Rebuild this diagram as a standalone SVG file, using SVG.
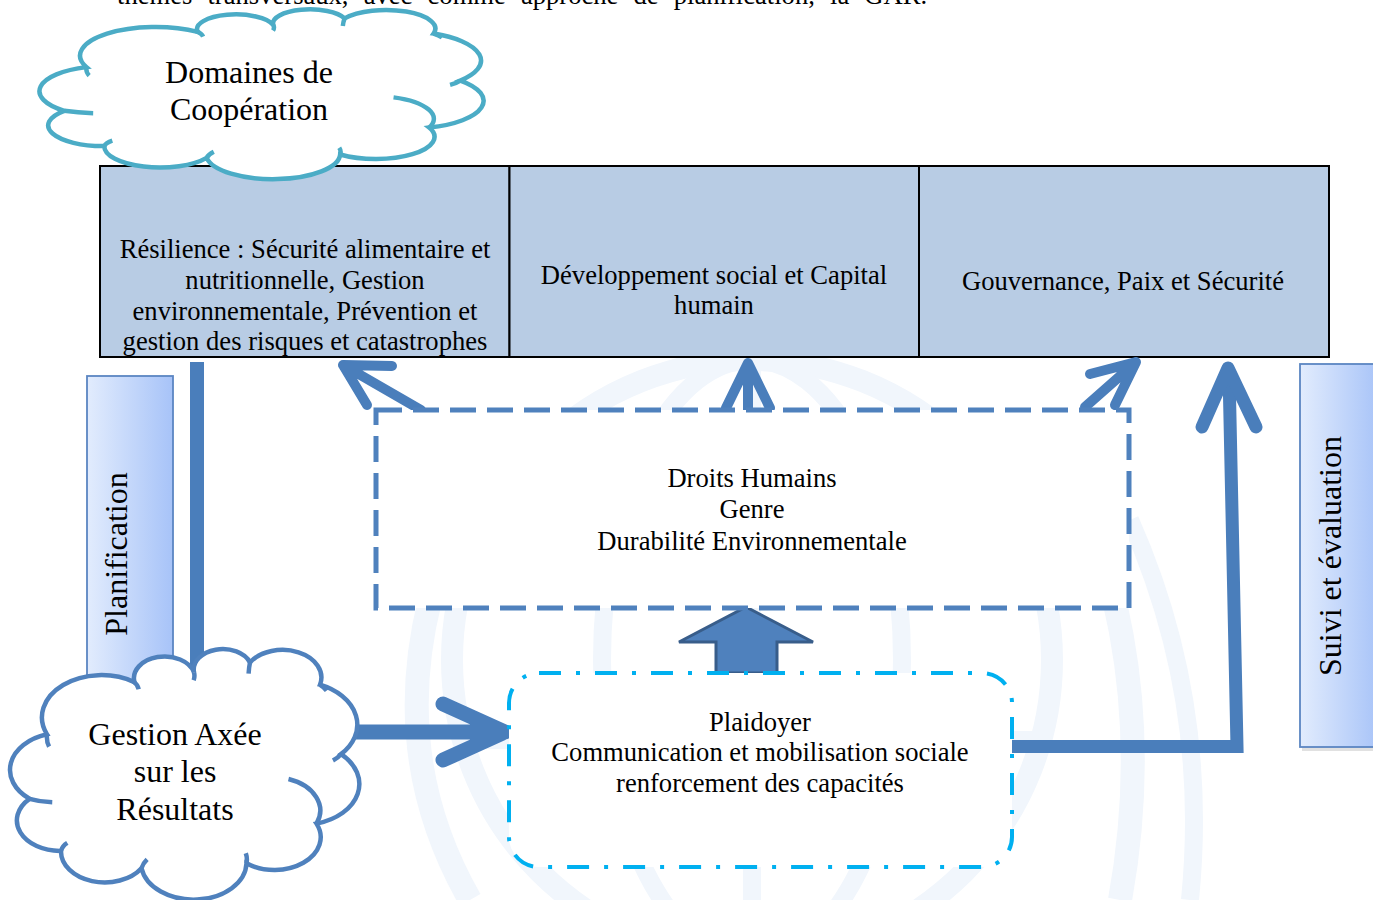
<svg xmlns="http://www.w3.org/2000/svg" width="1373" height="900" viewBox="0 0 1373 900">
<defs>
<linearGradient id="barGrad" x1="0" y1="0" x2="1" y2="0">
<stop offset="0" stop-color="#e2ecfd"/>
<stop offset="1" stop-color="#a7c3f8"/>
</linearGradient>
<style>
.t{font-family:"Liberation Serif","Times New Roman",serif;fill:#000;text-anchor:middle}
.s26{font-size:26.6px}
.s32{font-size:32px}
.arr{stroke:#4a7ebb;fill:none;stroke-linecap:round;stroke-linejoin:round}
.wm{stroke:#f1f6fc;fill:none}
.cell{fill:#b8cce4;stroke:#000;stroke-width:2}
.bar{fill:url(#barGrad);stroke:#5b86c2;stroke-width:1.8}
</style>
</defs>
<rect width="1373" height="900" fill="#fff"/>

<g id="watermark">
<circle class="wm" cx="752" cy="660" r="300" stroke-width="22"/>
<ellipse class="wm" cx="752" cy="660" rx="150" ry="300" stroke-width="18"/>
<line class="wm" x1="752" y1="360" x2="752" y2="900" stroke-width="18"/>
<line class="wm" x1="460" y1="740" x2="1045" y2="740" stroke-width="18"/>
<path class="wm" d="M430,600 Q390,760 470,900" stroke-width="24"/>
<path class="wm" d="M1075,480 Q1160,680 1120,900" stroke-width="24"/>
<path class="wm" d="M1130,520 Q1210,700 1190,900" stroke-width="18"/>
</g>

<g id="top-text">
<text class="t s26" x="117" y="4" style="text-anchor:start" word-spacing="8.5">thèmes transversaux, avec comme approche de planification, la GAR.</text>
</g>

<g id="table">
<g id="cell-resilience">
<rect class="cell" x="100" y="166" width="409.5" height="191"/>
<text class="t s26" x="305" y="258">Résilience : Sécurité alimentaire et</text>
<text class="t s26" x="305" y="289">nutritionnelle, Gestion</text>
<text class="t s26" x="305" y="319.5">environnementale, Prévention et</text>
<text class="t s26" x="305" y="350">gestion des risques et catastrophes</text>
</g>
<g id="cell-developpement">
<rect class="cell" x="509.5" y="166" width="409.5" height="191"/>
<text class="t s26" x="714" y="284">Développement social et Capital</text>
<text class="t s26" x="714" y="314">humain</text>
</g>
<g id="cell-gouvernance">
<rect class="cell" x="919" y="166" width="410" height="191"/>
<text class="t s26" x="1123" y="290">Gouvernance, Paix et Sécurité</text>
</g>
</g>

<g id="planification">
<rect class="bar" x="87" y="376" width="86" height="310"/>
<text class="t s32" transform="translate(127,554) rotate(-90)">Planification</text>
</g>

<g id="suivi">
<rect x="1302" y="367" width="80" height="384" fill="#bdbdbd" opacity="0.45"/>
<rect class="bar" x="1300" y="364" width="80" height="383"/>
<text class="t s32" transform="translate(1341,556) rotate(-90)">Suivi et évaluation</text>
</g>

<g id="connectors">
<line x1="197" y1="362" x2="197" y2="668" stroke="#4a7ebb" stroke-width="14"/>
<path class="arr" d="M421,410 L343,365 M392,366 L343,365 L367,405" stroke-width="10"/>
<path class="arr" d="M748,410 L748,366 M726,408 L748,363 L770,408" stroke-width="10"/>
<path class="arr" d="M1085,407 L1136,362 M1090,374 L1136,362 L1115,405" stroke-width="10"/>
<path class="arr" d="M353,732 L505,732 M443,704 L505,732 L443,760" stroke-width="15"/>
<path d="M1012,746.5 L1237,746.5 L1229,372" stroke="#4a7ebb" stroke-width="13" fill="none" stroke-linejoin="miter"/>
<path class="arr" d="M1202,427 L1228,368 L1256,427" stroke-width="13"/>
<path d="M716,673 L716,642 L679,642 L746,607 L813,642 L777,642 L777,673 Z" fill="#4f81bd" stroke="#385d8a" stroke-width="3" stroke-linejoin="miter"/>
</g>

<g id="transversal">
<rect x="376" y="410" width="753" height="198" fill="#fff" stroke="#4f81bd" stroke-width="5" stroke-dasharray="26 11"/>
<text class="t s26" x="752" y="487">Droits Humains</text>
<text class="t s26" x="752" y="518">Genre</text>
<text class="t s26" x="752" y="550">Durabilité Environnementale</text>
</g>

<g id="plaidoyer">
<rect x="509" y="673" width="503" height="194" rx="30" ry="30" fill="#fff" stroke="#00b0f0" stroke-width="4" stroke-dasharray="22 15 4 15"/>
<text class="t s26" x="760" y="731">Plaidoyer</text>
<text class="t s26" x="760" y="761">Communication et mobilisation sociale</text>
<text class="t s26" x="760" y="792">renforcement des capacités</text>
</g>

<g id="cloud-domaines">
<g transform="translate(42,10) scale(4.45,1.68)">
<path d="M5,60 A15 15 0 0 1 10,34 A17 17 0 0 1 35,13 A8.74 8.74 0 0 1 52,9 A8.3 8.3 0 0 1 68,5 A11.1 11.1 0 0 1 88,14 A17.5 17.5 0 0 1 94,42 A16.5 16.5 0 0 1 87,70 A13.2 13.2 0 0 1 67,86 A15.1 15.1 0 0 1 37,88 A12.5 12.5 0 0 1 14,81 A12.3 12.3 0 0 1 5,60 Z" fill="#fff" stroke="#4bacc6" stroke-width="4.5" vector-effect="non-scaling-stroke"/>
<path d="M10,34 q-0.2,3 0.6,5 M34.6,12.6 q1.3,1.3 1.6,3.2 M52,9 q0.3,1.6 -0.1,3.2 M68,5 q-0.3,2 -0.4,4.5 M88,14 q1.2,1 1.9,2.4 M94,42 q-0.9,1.6 -2.3,2.6 M79,52 A13.5 13.5 0 0 1 87,70 M67,86 q0.3,-2 -0.2,-4 M37,88 q0.4,-2 1.6,-3.6 M14,81 q0.4,-2 1.8,-3.2 M5,60 q3,1.2 6.5,1.4" fill="none" stroke="#4bacc6" stroke-width="4.5" vector-effect="non-scaling-stroke"/>
</g>
<text class="t s32" x="249" y="83">Domaines de</text>
<text class="t s32" x="249" y="120">Coopération</text>
</g>

<g id="cloud-gar">
<g transform="translate(12,650) scale(3.5,2.48)">
<path d="M5,60 A15 15 0 0 1 10,34 A17 17 0 0 1 35,13 A8.74 8.74 0 0 1 52,9 A8.3 8.3 0 0 1 68,5 A11.1 11.1 0 0 1 88,14 A17.5 17.5 0 0 1 94,42 A16.5 16.5 0 0 1 87,70 A13.2 13.2 0 0 1 67,86 A15.1 15.1 0 0 1 37,88 A12.5 12.5 0 0 1 14,81 A12.3 12.3 0 0 1 5,60 Z" fill="#fff" stroke="#4f81bd" stroke-width="4.5" vector-effect="non-scaling-stroke"/>
<path d="M10,34 q-0.2,3 0.6,5 M34.6,12.6 q1.3,1.3 1.6,3.2 M52,9 q0.3,1.6 -0.1,3.2 M68,5 q-0.3,2 -0.4,4.5 M88,14 q1.2,1 1.9,2.4 M94,42 q-0.9,1.6 -2.3,2.6 M79,52 A13.5 13.5 0 0 1 87,70 M67,86 q0.3,-2 -0.2,-4 M37,88 q0.4,-2 1.6,-3.6 M14,81 q0.4,-2 1.8,-3.2 M5,60 q3,1.2 6.5,1.4" fill="none" stroke="#4f81bd" stroke-width="4.5" vector-effect="non-scaling-stroke"/>
</g>
<text class="t s32" x="175" y="745">Gestion Axée</text>
<text class="t s32" x="175" y="782">sur les</text>
<text class="t s32" x="175" y="820">Résultats</text>
</g>
</svg>
